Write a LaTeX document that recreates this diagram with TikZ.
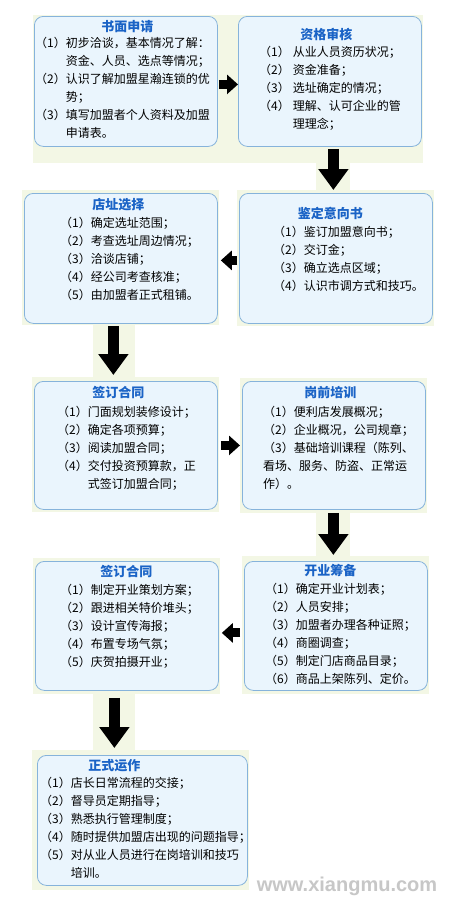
\documentclass[tikz,border=0pt]{standalone}
\usepackage{fontspec}
\setmainfont{Noto Sans CJK SC}
\newfontfamily\wmfont{Liberation Sans}
\usetikzlibrary{positioning,arrows.meta}

\definecolor{boxfill}{HTML}{EAF5FD}
\definecolor{boxline}{HTML}{86B3DB}
\definecolor{titleblue}{HTML}{1A63C6}
\definecolor{panel}{HTML}{F3F7E5}

\tikzset{
  stage/.style={draw=boxline, fill=boxfill, line width=0.8pt, rounded corners=9pt, anchor=north west, inner sep=0pt},
  stagetitle/.style={font=\bfseries\fontsize{13}{13}\selectfont, text=titleblue, inner sep=0pt},
  stageitems/.style={font=\fontsize{12}{18}\selectfont, align=left, inner sep=0pt},
  rarrow/.style={line width=9pt, -{Triangle[length=11pt,width=19pt]}},
  darrow/.style={line width=11pt, -{Triangle[length=21pt,width=29pt]}},
}

\begin{document}
\begin{tikzpicture}[x=1pt,y=-1pt]
	\fill[white] (0,0) rectangle (470,922);
	\useasboundingbox (0,0) rectangle (470,922);
	
	% pale panels behind the boxes
	\foreach \xa/\ya/\xb/\yb in {33/15/423/163, 316/163/350/190, 22/190/219/325, 237/190/434/326,
		93/323/135/378, 32/377/219/512, 240/378/427/513, 316/512/350/557,
		33/558/220/694, 242/556/429/694, 93/692/135/752, 32/750/249/890}
		\fill[panel] (\xa,\ya) rectangle (\xb,\yb);
	
	\node[stage, minimum width=183pt, minimum height=130pt] (b1) at (34,16) {};
	\node[stage, minimum width=183pt, minimum height=130pt] (b2) at (238,16) {};
	\node[stage, minimum width=193pt, minimum height=130pt] (b3) at (24,193) {};
	\node[stage, minimum width=193pt, minimum height=130pt] (b4) at (239,193) {};
	\node[stage, minimum width=183pt, minimum height=128pt] (b5) at (34,381) {};
	\node[stage, minimum width=183pt, minimum height=128pt] (b6) at (242,381) {};
	\node[stage, minimum width=183pt, minimum height=129pt] (b7) at (35,561) {};
	\node[stage, minimum width=183pt, minimum height=129pt] (b8) at (244,561) {};
	\node[stage, minimum width=210pt, minimum height=130pt] (b9) at (37,755) {};
	
	% titles
	\node[stagetitle, below=4.5pt of b1.north, xshift=1.5pt] (t1) {书面申请};
	\node[stagetitle, below=11.5pt of b2.north, xshift=-3.5pt] (t2) {资格审核};
	\node[stagetitle, below=5.5pt of b3.north, xshift=-2.5pt] (t3) {店址选择};
	\node[stagetitle, below=13.5pt of b4.north, xshift=-5.5pt] (t4) {鉴定意向书};
	\node[stagetitle, below=5.5pt of b5.north, xshift=-7.5pt] (t5) {签订合同};
	\node[stagetitle, below=5.5pt of b6.north, xshift=-3.5pt] (t6) {岗前培训};
	\node[stagetitle, below=4.5pt of b7.north, xshift=-0.5pt] (t7) {签订合同};
	\node[stagetitle, below=3.5pt of b8.north, xshift=-5.5pt] (t8) {开业筹备};
	\node[stagetitle, below=4.5pt of b9.north, xshift=-28pt] (t9) {正式运作};
	
	% item lists
	\node[stageitems, below right=21pt and 1pt of b1.north west] (l1) {%
		（1）初步洽谈，基本情况了解：\\
		\phantom{（1）}资金、人员、选点等情况；\\
		（2）认识了解加盟星瀚连锁的优\\
		\phantom{（1）}势；\\
		（3）填写加盟者个人资料及加盟\\
		\phantom{（1）}申请表。};
	\node[stageitems, below right=30pt and 21pt of b2.north west] (l2) {%
		（1）\hspace{3pt}从业人员资历状况；\\
		（2）\hspace{3pt}资金准备；\\
		（3）\hspace{3pt}选址确定的情况；\\
		（4）\hspace{3pt}理解、认可企业的管\\
		\phantom{（1）}\hspace{3pt}理理念；};
	\node[stageitems, below right=24pt and 36pt of b3.north west] (l3) {%
		（1）确定选址范围；\\
		（2）考查选址周边情况；\\
		（3）洽谈店铺；\\
		（4）经公司考查核准；\\
		（5）由加盟者正式租铺。};
	\node[stageitems, below right=33pt and 34pt of b4.north west] (l4) {%
		（1）鉴订加盟意向书；\\
		（2）交订金；\\
		（3）确立选点区域；\\
		（4）认识市调方式和技巧。};
	\node[stageitems, below right=25pt and 23pt of b5.north west] (l5) {%
		（1）门面规划装修设计；\\
		（2）确定各项预算；\\
		（3）阅读加盟合同；\\
		（4）交付投资预算款，正\\
		\phantom{（1）}式签订加盟合同；};
	\node[stageitems, below right=25pt and 21pt of b6.north west] (l6) {%
		（1）便利店发展概况；\\
		（2）企业概况，公司规章；\\
		（3）基础培训课程（陈列、\\
		看场、服务、防盗、正常运\\
		作）。};
	\node[stageitems, below right=23pt and 25pt of b7.north west] (l7) {%
		（1）制定开业策划方案；\\
		（2）跟进相关特价堆头；\\
		（3）设计宣传海报；\\
		（4）布置专场气氛；\\
		（5）庆贺拍摄开业；};
	\node[stageitems, below right=22pt and 21pt of b8.north west] (l8) {%
		（1）确定开业计划表；\\
		（2）人员安排；\\
		（3）加盟者办理各种证照；\\
		（4）商圈调查；\\
		（5）制定门店商品目录；\\
		（6）商品上架陈列、定价。};
	\node[stageitems, below right=22pt and 3pt of b9.north west] (l9) {%
		（1）店长日常流程的交接；\\
		（2）督导员定期指导；\\
		（3）熟悉执行管理制度；\\
		（4）随时提供加盟店出现的问题指导；\\
		（5）对从业人员进行在岗培训和技巧\\
		\phantom{（1）}培训。};
	
	% arrows
	\draw[rarrow, shorten <=1pt] ([yshift=-3pt]b1.east) -- ([yshift=-3pt]b2.west);
	\draw[darrow, shorten <=2pt, shorten >=3pt] ([xshift=3.5pt]b2.south) -- ([xshift=-2.5pt]b4.north);
	\draw[rarrow, shorten <=2pt, shorten >=3pt] ([yshift=-2pt]b4.west) -- ([yshift=-2pt]b3.east);
	\draw[darrow, shorten <=2pt, shorten >=6pt] ([xshift=-7.5pt]b3.south) -- ([xshift=-12.5pt]b5.north);
	\draw[rarrow, shorten <=3pt, shorten >=2pt] (b5.east) -- (b6.west);
	\draw[darrow, shorten <=3pt, shorten >=6pt] ([xshift=-0.5pt]b6.south) -- ([xshift=-2.5pt]b8.north);
	\draw[rarrow, shorten <=4pt, shorten >=3pt] ([yshift=-7pt]b8.west) -- ([yshift=-7pt]b7.east);
	\draw[darrow, shorten <=7pt, shorten >=7pt] ([xshift=-12.5pt]b7.south) -- ([xshift=-28pt]b9.north);
	
	\node[font=\wmfont\bfseries\fontsize{20}{20}\selectfont, text=black!22, inner sep=0pt] (wm) at (347,886) {www.xiangmu.com};
\end{tikzpicture}
\end{document}
